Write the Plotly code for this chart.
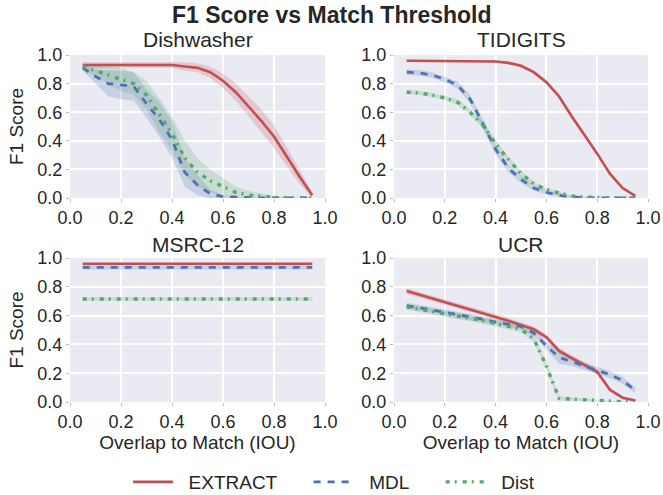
import plotly.graph_objects as go

# ---------------- data ----------------
x_iou = [0.05, 0.10, 0.15, 0.20, 0.25, 0.30, 0.35, 0.40, 0.45, 0.50,
         0.55, 0.60, 0.65, 0.70, 0.75, 0.80, 0.85, 0.90, 0.95]

datasets = ["Dishwasher", "TIDIGITS", "MSRC-12", "UCR"]
methods = ["EXTRACT", "MDL", "Dist"]

# Dishwasher
dish_extract = [0.93, 0.93, 0.93, 0.93, 0.93, 0.93, 0.93, 0.93, 0.92, 0.91,
                0.88, 0.82, 0.74, 0.64, 0.54, 0.43, 0.29, 0.15, 0.02]
dish_extract_err = [0.02, 0.02, 0.02, 0.02, 0.02, 0.02, 0.02, 0.02, 0.03, 0.03,
                    0.04, 0.05, 0.06, 0.07, 0.08, 0.08, 0.07, 0.05, 0.02]
dish_mdl = [0.91, 0.85, 0.80, 0.79, 0.78, 0.66, 0.55, 0.41, 0.18, 0.09,
            0.03, 0.01, 0.005, 0.0, 0.0, 0.0, 0.0, 0.0, 0.0]
dish_mdl_err = [0.02, 0.05, 0.09, 0.10, 0.10, 0.10, 0.12, 0.13, 0.10, 0.07,
                0.03, 0.01, 0.005, 0.0, 0.0, 0.0, 0.0, 0.0, 0.0]
dish_dist = [0.92, 0.89, 0.86, 0.83, 0.80, 0.72, 0.58, 0.45, 0.28, 0.18,
             0.12, 0.08, 0.04, 0.02, 0.01, 0.004, 0.0, 0.0, 0.0]
dish_dist_err = [0.02, 0.04, 0.06, 0.08, 0.08, 0.10, 0.12, 0.12, 0.12, 0.10,
                 0.08, 0.06, 0.04, 0.03, 0.02, 0.01, 0.005, 0.0, 0.0]

# TIDIGITS
tidi_extract = [0.96, 0.96, 0.96, 0.96, 0.96, 0.96, 0.958, 0.955, 0.945, 0.925,
                0.88, 0.81, 0.71, 0.57, 0.44, 0.31, 0.17, 0.07, 0.015]
tidi_extract_err = [0.008, 0.008, 0.008, 0.008, 0.008, 0.008, 0.008, 0.008, 0.01, 0.01,
                    0.012, 0.015, 0.015, 0.015, 0.012, 0.01, 0.01, 0.008, 0.005]
tidi_mdl = [0.88, 0.875, 0.86, 0.83, 0.79, 0.69, 0.52, 0.34, 0.21, 0.13,
            0.07, 0.04, 0.018, 0.007, 0.002, 0.0, 0.0, 0.0, 0.0]
tidi_mdl_err = [0.02, 0.02, 0.02, 0.02, 0.025, 0.03, 0.035, 0.035, 0.03, 0.025,
                0.02, 0.015, 0.01, 0.005, 0.002, 0.0, 0.0, 0.0, 0.0]
tidi_dist = [0.74, 0.735, 0.72, 0.70, 0.67, 0.60, 0.51, 0.38, 0.27, 0.17,
             0.10, 0.06, 0.035, 0.015, 0.006, 0.002, 0.001, 0.0, 0.0]
tidi_dist_err = [0.015, 0.015, 0.015, 0.015, 0.02, 0.02, 0.025, 0.025, 0.02, 0.02,
                 0.015, 0.012, 0.01, 0.006, 0.003, 0.001, 0.0, 0.0, 0.0]

# MSRC-12
msrc_extract = [0.96] * 19
msrc_extract_err = [0.006] * 19
msrc_mdl = [0.935] * 19
msrc_mdl_err = [0.015] * 19
msrc_dist = [0.715] * 19
msrc_dist_err = [0.012] * 19

# UCR
ucr_extract = [0.77, 0.745, 0.72, 0.695, 0.67, 0.645, 0.62, 0.595, 0.565, 0.535,
               0.505, 0.45, 0.355, 0.305, 0.26, 0.21, 0.085, 0.03, 0.01]
ucr_extract_err = [0.02, 0.02, 0.02, 0.02, 0.02, 0.02, 0.02, 0.02, 0.02, 0.02,
                   0.02, 0.02, 0.02, 0.02, 0.02, 0.02, 0.015, 0.01, 0.005]
ucr_mdl = [0.67, 0.655, 0.64, 0.62, 0.605, 0.59, 0.575, 0.555, 0.54, 0.525,
           0.48, 0.39, 0.31, 0.28, 0.25, 0.22, 0.19, 0.15, 0.08]
ucr_mdl_err = [0.02, 0.02, 0.02, 0.02, 0.02, 0.02, 0.02, 0.02, 0.02, 0.02,
               0.02, 0.03, 0.045, 0.03, 0.025, 0.025, 0.025, 0.025, 0.02]
ucr_dist = [0.66, 0.645, 0.63, 0.61, 0.595, 0.58, 0.565, 0.545, 0.525, 0.505,
            0.44, 0.25, 0.025, 0.02, 0.015, 0.008, 0.004, 0.002, 0.0]
ucr_dist_err = [0.02, 0.02, 0.02, 0.02, 0.02, 0.02, 0.02, 0.02, 0.02, 0.02,
                0.025, 0.03, 0.015, 0.01, 0.01, 0.008, 0.004, 0.002, 0.0]

series = {
    "Dishwasher": [(dish_extract, dish_extract_err), (dish_mdl, dish_mdl_err), (dish_dist, dish_dist_err)],
    "TIDIGITS": [(tidi_extract, tidi_extract_err), (tidi_mdl, tidi_mdl_err), (tidi_dist, tidi_dist_err)],
    "MSRC-12": [(msrc_extract, msrc_extract_err), (msrc_mdl, msrc_mdl_err), (msrc_dist, msrc_dist_err)],
    "UCR": [(ucr_extract, ucr_extract_err), (ucr_mdl, ucr_mdl_err), (ucr_dist, ucr_dist_err)],
}

tick_vals = [0.0, 0.2, 0.4, 0.6, 0.8, 1.0]
tick_text = ["0.0", "0.2", "0.4", "0.6", "0.8", "1.0"]

# ---------------- style ----------------
colors = ["#C44E52", "#4C72B0", "#55A868"]
fills = ["rgba(196,78,82,0.22)", "rgba(76,114,176,0.22)", "rgba(85,168,104,0.22)"]
dashes = ["solid", "7px,7px", "4px,5px,2px,6px"]
widths = [2.6, 2.8, 3.4]
NB = "\u00a0"
legend_names = [NB * 2 + "EXTRACT" + NB * 5, NB * 2 + "MDL" + NB * 5, NB * 2 + "Dist"]
FONT = "Liberation Sans, Arial, sans-serif"
TXT = "#262626"

# panel pixel boxes -> paper domains
W, H = 663, 495
ml, mr, mt, mb = 70, 15, 55, 93
pw, ph = W - ml - mr, H - mt - mb
def dx(a, b):
    return [(a - ml) / pw, (b - ml) / pw]
def dy(top, bot):
    return [(H - mb - bot) / ph, (H - mb - top) / ph]

xdoms = [dx(70, 325), dx(394, 648), dx(70, 325), dx(394, 648)]
ydoms = [dy(55, 198), dy(55, 198), dy(258, 402), dy(258, 402)]

fig = go.Figure()

for i, name in enumerate(datasets):
    xa = "x" if i == 0 else f"x{i+1}"
    ya = "y" if i == 0 else f"y{i+1}"
    for j, (vals, errs) in enumerate(series[name]):
        up = [v + e for v, e in zip(vals, errs)]
        lo = [max(v - e, 0.0) for v, e in zip(vals, errs)]
        fig.add_trace(go.Scatter(
            x=x_iou + x_iou[::-1], y=up + lo[::-1], fill="toself",
            fillcolor=fills[j], line=dict(width=0), mode="lines",
            hoverinfo="skip", showlegend=False, xaxis=xa, yaxis=ya))
    for j, (vals, errs) in enumerate(series[name]):
        fig.add_trace(go.Scatter(
            x=x_iou, y=vals, mode="lines", name=legend_names[j],
            line=dict(color=colors[j], width=widths[j], dash=dashes[j]),
            showlegend=(i == 0), legendgroup=methods[j],
            xaxis=xa, yaxis=ya))

axis_common = dict(
    range=[0, 1], tickvals=tick_vals, ticktext=tick_text,
    showgrid=True, gridcolor="white", gridwidth=1.6, zeroline=False,
    showline=False, ticks="outside", ticklen=3, tickcolor="#BBBBBB",
    tickfont=dict(family=FONT, size=18, color=TXT),
)

layout = dict(
    width=W, height=H,
    margin=dict(l=ml, r=mr, t=mt, b=mb, autoexpand=False),
    paper_bgcolor="white", plot_bgcolor="#EAEAF2",
    font=dict(family=FONT, color=TXT),
    showlegend=True,
    legend=dict(orientation="h", x=(334 - ml) / pw, xanchor="center",
                y=(H - mb - 482) / ph, yanchor="middle",
                font=dict(family=FONT, size=19, color=TXT),
                bgcolor="rgba(0,0,0,0)", itemwidth=40, tracegroupgap=0),
)

for i in range(4):
    xk = "xaxis" if i == 0 else f"xaxis{i+1}"
    yk = "yaxis" if i == 0 else f"yaxis{i+1}"
    xa = dict(axis_common, domain=xdoms[i], anchor="y" if i == 0 else f"y{i+1}")
    ya = dict(axis_common, domain=ydoms[i], anchor="x" if i == 0 else f"x{i+1}")
    if i >= 2:
        xa["title"] = dict(text="Overlap to Match (IOU)",
                           font=dict(family=FONT, size=19, color=TXT), standoff=4)
    if i in (0, 2):
        ya["title"] = dict(text="F1 Score",
                           font=dict(family=FONT, size=19, color=TXT), standoff=8)
    layout[xk] = xa
    layout[yk] = ya

fig.update_layout(**layout)

annotations = [
    dict(text="<b>F1 Score vs Match Threshold</b>", x=(331.5 - ml) / pw, y=15,
         font=dict(family=FONT, size=23, color=TXT)),
]
title_pos = [(197.5, 40), (521, 40), (197.5, 244), (521, 244)]
for name, (px, py) in zip(datasets, title_pos):
    annotations.append(dict(text=name, x=(px - ml) / pw, y=py,
                            font=dict(family=FONT, size=21, color=TXT)))
for a in annotations:
    a["yref"] = "paper"
    a["xref"] = "paper"
    a["y"] = (H - mb - a["y"]) / ph
    a["showarrow"] = False
    a["xanchor"] = "center"
    a["yanchor"] = "middle"
fig.update_layout(annotations=annotations)

fig.write_html("out.html")
